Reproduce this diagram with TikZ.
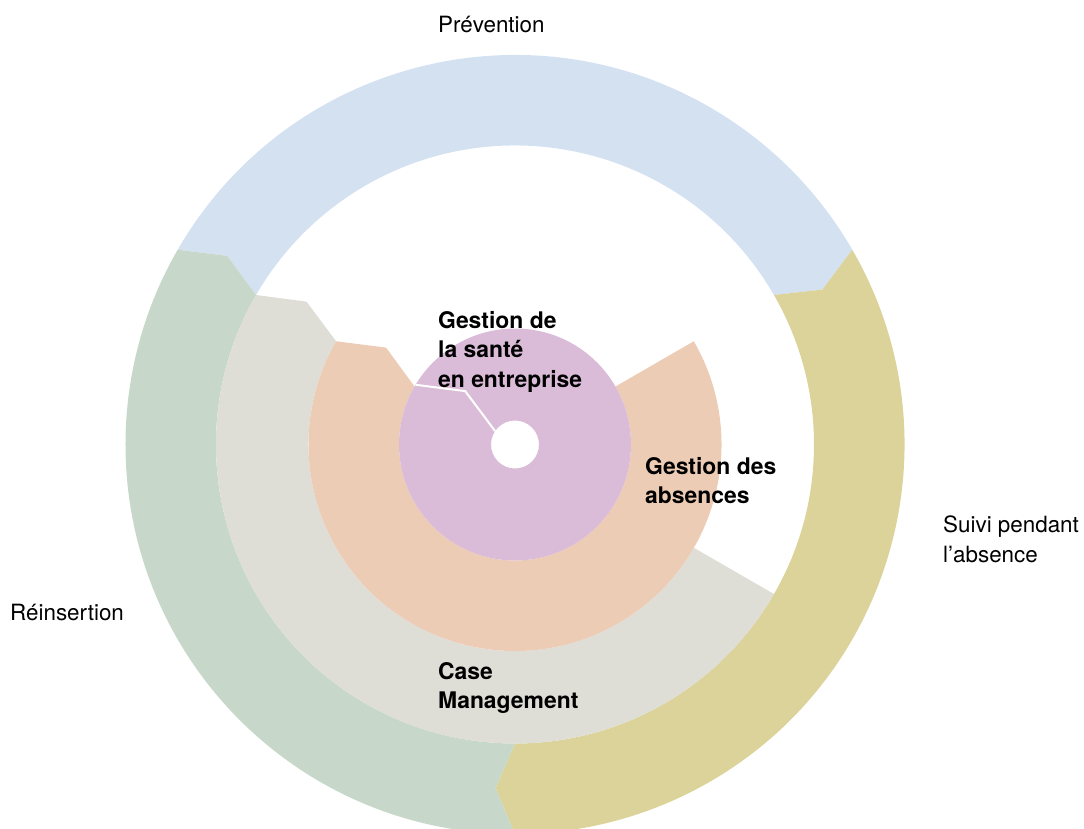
\documentclass[tikz,border=0pt]{standalone}
\usepackage{fontspec}
\setmainfont{TeX Gyre Heros}
\definecolor{cblue}{RGB}{212,225,241}
\definecolor{cyellow}{RGB}{219,211,153}
\definecolor{cgreen}{RGB}{199,216,202}
\definecolor{cgrey}{RGB}{223,222,214}
\definecolor{corange}{RGB}{237,204,182}
\definecolor{cpurple}{RGB}{218,188,216}
% #1 colour, #2 inner radius, #3 outer radius, #4 tail angle, #5 tip angle, #6 notch (1/0)
\newcommand{\arrowseg}[6]{%
  \pgfmathsetmacro\segmid{(#2+#3)/2}%
  \pgfmathsetmacro\segdd{19.5/\segmid*180/pi}%
  \pgfmathsetmacro\segtipa{#5-\segdd}%
  \pgfmathsetmacro\segnotcha{#4-#6*\segdd}%
  \fill[#1] (#4:#3) arc[start angle=#4, end angle=#5, radius=#3]
    -- (\segtipa:\segmid) -- (#5:#2)
    arc[start angle=#5, end angle=#4, radius=#2]
    -- (\segnotcha:\segmid) -- cycle;
}
\begin{document}
\begin{tikzpicture}[x=1pt,y=1pt,
  lbl/.style={inner sep=0pt, font=\fontsize{22.4}{29.5}\selectfont, align=left},
  blbl/.style={lbl, font=\fontsize{22.9}{29.5}\selectfont\bfseries}]
\useasboundingbox (-515,-383.5) rectangle (569,444.5);
% outer ring
\arrowseg{cblue}{299}{389.5}{150}{30}{1}
\arrowseg{cyellow}{299}{389.5}{30}{-90}{1}
\arrowseg{cgreen}{299}{389.5}{270}{150}{1}
% case management ring
\arrowseg{cgrey}{206.5}{299}{330}{150}{0}
% absences ring
\arrowseg{corange}{116}{206.5}{390}{150}{0}
% centre ring
\fill[cpurple, even odd rule] (0,0) circle[radius=116] (0,0) circle[radius=24];
\draw[white, line width=2pt] (149:116) -- (133:73) -- (146:24);
% labels
\node[lbl, anchor=base west] (prev) at (-77,411.5) {Prévention};
\node[blbl, anchor=north west] (sante) at (-77,133.5) {Gestion de\\la santé\\en entreprise};
\node[blbl, anchor=north west] (abs) at (130,-12.5) {Gestion des\\absences};
\node[lbl, anchor=north west] (suivi) at (428,-71.5) {Suivi pendant\\l’absence};
\node[lbl, anchor=base west] (reins) at (-505,-175.5) {Réinsertion};
\node[blbl, anchor=north west] (case) at (-77,-217.5) {Case\\Management};
\end{tikzpicture}
\end{document}
